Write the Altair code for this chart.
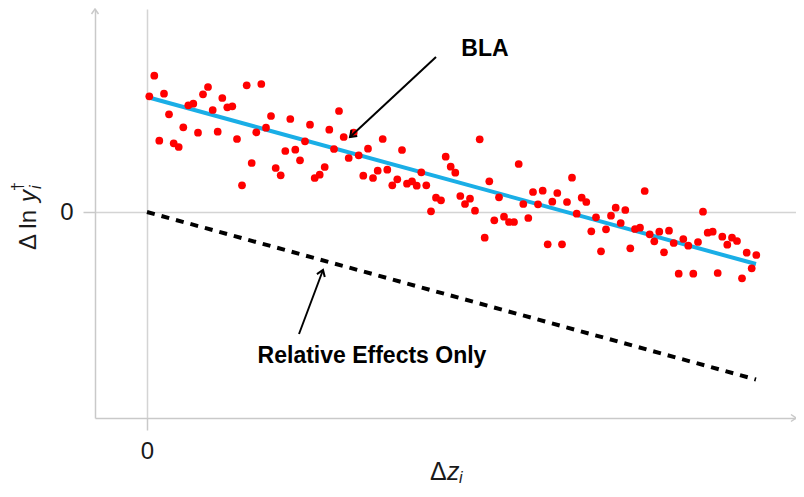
import altair as alt
import pandas as pd

# ---- scatter data ----
x_vals = [0.023, 0.073, 0.123, 0.17, 0.22, 0.267, 0.317, 0.363, 0.413, 0.463,
          0.51, 0.56, 0.61, 0.657, 0.707, 0.753, 0.803, 0.853, 0.9, 0.95,
          0.997, 1.047, 1.093, 1.143, 1.19, 1.24, 1.287, 1.337, 1.383, 1.433,
          1.483, 1.53, 1.58, 1.63, 1.677, 1.727, 1.777, 1.823, 1.87, 1.92,
          1.967, 2.017, 2.067, 2.117, 2.163, 2.21, 2.26, 2.307, 2.357, 2.403,
          2.453, 2.503, 2.55, 2.6, 2.65, 2.697, 2.743, 2.793, 2.84, 2.89,
          2.94, 2.987, 3.037, 3.083, 3.133, 3.18, 3.23, 3.28, 3.327, 3.377,
          3.423, 3.473, 3.52, 3.57, 3.62, 3.67, 3.717, 3.763, 3.813, 3.86,
          3.91, 3.957, 4.007, 4.053, 4.103, 4.15, 4.2, 4.25, 4.297, 4.347,
          4.393, 4.443, 4.49, 4.54, 4.59, 4.64, 4.687, 4.737, 4.783, 4.833,
          4.88, 4.93, 4.977, 5.027, 5.073, 5.123, 5.17, 5.22, 5.267, 5.317,
          5.363, 5.413, 5.463, 5.51, 5.56, 5.607, 5.657, 5.707, 5.753, 5.803,
          5.85, 5.9, 5.95, 5.997, 6.047, 6.093]
y_vals = [1.157, 1.363, 0.713, 1.183, 0.977, 0.687, 0.65, 0.847, 1.067, 1.083,
          0.793, 1.177, 1.25, 1.02, 0.803, 1.14, 1.047, 1.057, 0.73, 0.267,
          1.267, 0.49, 0.797, 1.28, 0.843, 0.96, 0.44, 0.367, 0.61, 0.93,
          0.623, 0.517, 0.707, 0.873, 0.34, 0.373, 0.45, 0.823, 0.63, 1.01,
          0.75, 0.54, 0.793, 0.567, 0.363, 0.633, 0.34, 0.413, 0.73, 0.423,
          0.267, 0.327, 0.62, 0.283, 0.307, 0.263, 0.397, 0.267, 0.007, 0.143,
          0.117, 0.553, 0.453, 0.393, 0.16, 0.08, 0.133, 0.013, 0.727, -0.257,
          0.307, -0.083, 0.147, -0.047, -0.10, -0.10, 0.48, 0.08, -0.06, 0.20,
          0.077, 0.213, -0.323, 0.103, 0.19, -0.323, 0.10, 0.343, -0.017, 0.143,
          0.10, -0.193, -0.053, -0.393, -0.173, -0.037, 0.043, -0.11, 0.02, -0.363,
          -0.17, -0.157, 0.21, -0.223, -0.293, -0.197, -0.403, -0.187, -0.31, -0.617,
          -0.27, -0.337, -0.617, -0.30, 0.003, -0.207, -0.197, -0.61, -0.247, -0.327,
          -0.257, -0.29, -0.663, -0.407, -0.563, -0.43]

# ---- lines ----
bla_x = [0.0, 6.09]
bla_y = [1.15, -0.52]
rel_x = [0.0, 6.09]
rel_y = [0.0, -1.675]

# ---- annotations ----
ann_text = ["BLA", "Relative Effects Only"]
ann_x = [3.38, 2.25]
ann_y = [1.63, -1.44]
arrow_x = [2.89, 1.52]
arrow_y = [1.55, -1.22]
arrow_x2 = [2.03, 1.76]
arrow_y2 = [0.75, -0.58]

X_DOMAIN = [-0.52, 6.49]
Y_DOMAIN = [-2.06, 2.03]
tick_values = [0]

FONT = "Liberation Sans"
GRAY = "#c9c9c9"

xs = alt.Scale(domain=X_DOMAIN, nice=False, zero=False)
ys = alt.Scale(domain=Y_DOMAIN, nice=False, zero=False)

axis_common = dict(values=tick_values, format="d", grid=True, gridColor="#d4d4d4", gridWidth=1.5,
                   domainColor=GRAY, domainWidth=1.5, tickColor=GRAY, tickWidth=1.5,
                   tickSize=12, labelFont=FONT, labelFontSize=24, labelColor="#1a1a1a",
                   title=None)

df_pts = pd.DataFrame({"x": x_vals, "y": y_vals})
df_bla = pd.DataFrame({"x": bla_x, "y": bla_y})
df_rel = pd.DataFrame({"x": rel_x, "y": rel_y})
df_ann = pd.DataFrame({"x": ann_x, "y": ann_y, "t": ann_text})
df_arr = pd.DataFrame({"x": arrow_x, "y": arrow_y, "x2": arrow_x2, "y2": arrow_y2})

base_x = alt.X("x:Q", scale=xs, axis=alt.Axis(labelPadding=9, **axis_common))
base_y = alt.Y("y:Q", scale=ys, axis=alt.Axis(labelPadding=10, **axis_common))

rel_line = alt.Chart(df_rel).mark_line(color="black", strokeWidth=4, strokeDash=[8, 7]).encode(
    x=base_x, y=base_y)
pts = alt.Chart(df_pts).mark_circle(size=60, color="#ff0000", opacity=1).encode(
    x=alt.X("x:Q", scale=xs), y=alt.Y("y:Q", scale=ys))
bla_line = alt.Chart(df_bla).mark_line(color="#1aaee6", strokeWidth=4).encode(
    x=alt.X("x:Q", scale=xs), y=alt.Y("y:Q", scale=ys))

arrows = alt.Chart(df_arr).mark_rule(color="black", strokeWidth=2).encode(
    x=alt.X("x:Q", scale=xs), y=alt.Y("y:Q", scale=ys), x2="x2:Q", y2="y2:Q")

CHEV = "M-0.7,1L0,0L0.7,1"
head1 = alt.Chart(df_arr.iloc[[0]]).mark_point(shape=CHEV, filled=False, color="black",
                                               strokeWidth=2, size=144, angle=227, opacity=1).encode(
    x=alt.X("x2:Q", scale=xs), y=alt.Y("y2:Q", scale=ys))
head2 = alt.Chart(df_arr.iloc[[1]]).mark_point(shape=CHEV, filled=False, color="black",
                                               strokeWidth=2, size=144, angle=21, opacity=1).encode(
    x=alt.X("x2:Q", scale=xs), y=alt.Y("y2:Q", scale=ys))

ann = alt.Chart(df_ann).mark_text(font=FONT, fontWeight="bold", fontSize=23, color="black",
                                  align="center", baseline="middle").encode(
    x=alt.X("x:Q", scale=xs), y=alt.Y("y:Q", scale=ys), text="t:N")

# axis arrowheads at the ends of the axis lines
df_axarr_up = pd.DataFrame({"x": [X_DOMAIN[0]], "y": [Y_DOMAIN[1]]})
df_axarr_rt = pd.DataFrame({"x": [X_DOMAIN[1]], "y": [Y_DOMAIN[0]]})
ax_up = alt.Chart(df_axarr_up).mark_point(shape=CHEV, filled=False, color=GRAY, strokeWidth=1.5,
                                          size=100, angle=0, opacity=1).encode(
    x=alt.X("x:Q", scale=xs), y=alt.Y("y:Q", scale=ys))
ax_rt = alt.Chart(df_axarr_rt).mark_point(shape=CHEV, filled=False, color=GRAY, strokeWidth=1.5,
                                          size=100, angle=90, opacity=1).encode(
    x=alt.X("x:Q", scale=xs), y=alt.Y("y:Q", scale=ys))

# axis titles (with sub/superscripts, italic math letters)
def txt(s, x, y, size, angle=0, italic=False):
    return alt.Chart(pd.DataFrame({"t": [s]})).mark_text(
        font=FONT, fontSize=size, color="#1a1a1a", align="left", baseline="alphabetic",
        fontStyle="italic" if italic else "normal",
        angle=angle).encode(x=alt.value(x), y=alt.value(y), text="t:N")

xt_delta = txt("\u0394", 335, 471, 25)
xt_z = txt("z", 352, 471, 25, italic=True)
xt_sub = txt("i", 364, 474, 16, italic=True)
yt_main = txt("\u0394 ln", -59, 241, 24, angle=270)
yt_y = txt("y", -59, 193, 24, angle=270, italic=True)
yt_sub = txt("i", -54, 180, 16, angle=270, italic=True)
yt_sup = txt("\u2020", -72, 182, 16, angle=270)

chart = alt.layer(rel_line, bla_line, pts, arrows, head1, head2, ann, ax_up, ax_rt,
                  xt_delta, xt_z, xt_sub, yt_main, yt_y, yt_sub, yt_sup).properties(
    width=701, height=409,
    autosize=alt.AutoSizeParams(type="none"),
    padding={"left": 87, "top": 1, "right": 0, "bottom": 67},
).configure_view(stroke=None)

chart.save("out.html", embed_options={"renderer": "svg", "actions": False})
